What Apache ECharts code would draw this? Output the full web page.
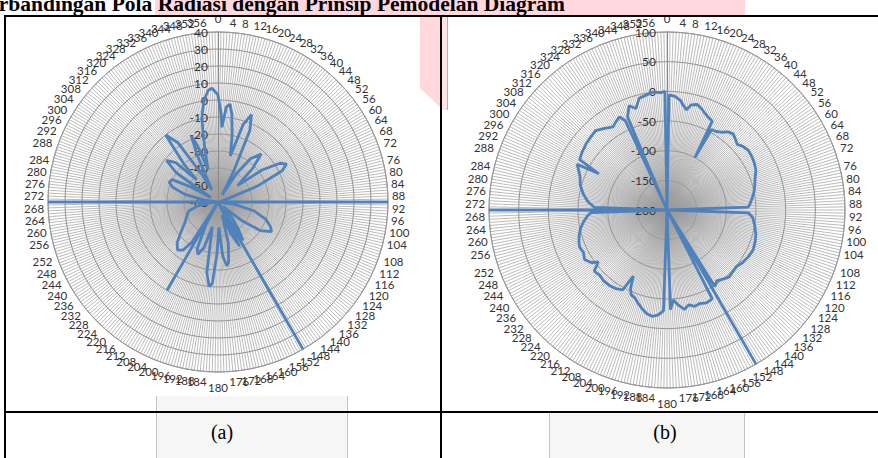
<!DOCTYPE html>
<html><head><meta charset="utf-8">
<script src="https://cdn.jsdelivr.net/npm/echarts@6/dist/echarts.min.js"></script>
<style>
html,body{margin:0;padding:0;width:878px;height:458px;overflow:hidden;background:#fff;}
.abs{position:absolute;}
#chart{position:absolute;left:0;top:0;width:878px;height:458px;}
.cap{position:absolute;font:20px 'Liberation Serif','Times New Roman',serif;color:#000;transform:translate(-50%,-50%);white-space:nowrap;}
</style></head><body>
<div class="abs" style="left:155px;top:0;width:590px;height:15px;background:#ffd7dc"></div>
<div class="abs" style="right:313px;top:-7px;font:bold 21.5px 'Liberation Serif','Times New Roman',serif;line-height:22px;white-space:nowrap;color:#000">Perbandingan Pola Radiasi dengan Prinsip Pemodelan Diagram</div>
<svg class="abs" style="left:0;top:0" width="878" height="458">
  <polygon points="420,15 441,15 441,108 420,88" fill="#ffd7dc"/>
  <rect x="441" y="15" width="7" height="95" fill="#ffe4e7"/>
  <line x1="447.5" y1="15" x2="447.5" y2="110" stroke="#c9a3a8" stroke-width="1"/>
  <rect x="156" y="396" width="192" height="62" fill="#f6f6f6" stroke="none"/>
  <line x1="156.5" y1="396" x2="156.5" y2="458" stroke="#c4c4c4"/>
  <line x1="347.5" y1="396" x2="347.5" y2="458" stroke="#c4c4c4"/>
  <rect x="549" y="412" width="196" height="46" fill="#f6f6f6" stroke="none"/>
  <line x1="549.5" y1="412" x2="549.5" y2="458" stroke="#c4c4c4"/>
  <line x1="744.5" y1="412" x2="744.5" y2="458" stroke="#c4c4c4"/>
</svg>
<div id="chart"></div>
<svg class="abs" style="left:0;top:0;pointer-events:none" width="878" height="458">
  <line x1="4" y1="16" x2="878" y2="16" stroke="#000" stroke-width="2"/>
  <line x1="5" y1="15" x2="5" y2="458" stroke="#000" stroke-width="2"/>
  <line x1="441" y1="15" x2="441" y2="458" stroke="#000" stroke-width="2"/>
  <line x1="4" y1="412" x2="878" y2="412" stroke="#000" stroke-width="2"/>
</svg>
<div class="cap" style="left:222px;top:432px">(a)</div>
<div class="cap" style="left:665px;top:432px">(b)</div>
<script>
// Chart (a): angle (degrees) and gain (dB)
const anglesA = [0,2,3,5,7,9,12,15,18,21,24,27,30,33,37,42,46,50,54,58,61,64,68,72,78,84,89,90,91,98,104,110,115,119,124,128,133,138,143,147,149,150,151,154,158,162,166,170,172,175,178,181,184,186,189,193,197,201,204,206,208,209,210,211,213,216,220,225,231,238,246,253,259,264,269,270,271,278,283,288,292,296,299,302,305,309,313,316,318,322,326,330,333,336,338,340,343,346,349,352,355,357,360];
const valuesA = [3,-8,-16,-4,-2,-8,-20,-32,-12,-5,-14,-40,-55,-40,-28,-22,-32,-45,-28,-17,-14,-18,-35,-55,-58,-57,-60,40,-60,-50,-38,-30,-26,-24,-30,-42,-56,-48,-40,-33,-60,56,-60,-31,-40,-52,-35,-24,-22,-28,-45,-30,-12,-10,-18,-45,-32,-27,-30,-40,-45,-60,0,-60,-32,-25,-23,-26,-32,-37,-40,-42,-48,-56,-60,40,-60,-52,-40,-32,-29,-30,-42,-55,-30,-21,-26,-42,-30,-10,-18,-42,-52,-30,-18,-25,-40,-28,-10,0,6,7,3];
// Chart (b)
const anglesB = [0,1,4,7,9,11,13,16,19,22,25,27,28,29,32,35,38,41,44,47,50,54,58,62,66,70,74,78,82,86,88,90,92,95,100,105,110,115,120,125,129,133,137,141,145,148,149,150,151,153,157,161,164,167,170,173,176,178,180,182,185,188,191,194,197,200,203,205,207,209,213,217,222,226,230,233,235,239,243,247,250,254,258,262,266,268,269,270,271,272,276,281,286,291,295,297,298,300,304,309,314,318,322,327,330,333,335,336,337,340,343,346,350,353,357,359,360];
const valuesB = [-200,-6,-8,-14,-22,-28,-18,-15,-20,-26,-30,-32,-100,-45,-44,-40,-33,-30,-34,-38,-33,-30,-31,-33,-36,-42,-46,-50,-55,-60,-63,-200,-63,-55,-50,-45,-42,-40,-42,-45,-49,-48,-46,-50,-54,-48,-200,142,-200,-32,-30,-33,-31,-36,-30,-38,-48,-32,-200,-30,-22,-19,-22,-28,-35,-42,-45,-55,-75,-46,-42,-40,-40,-42,-40,-55,-45,-38,-42,-40,-42,-46,-51,-58,-66,-72,-200,100,-200,-78,-66,-56,-48,-43,-35,-30,-70,-30,-27,-24,-22,-20,-26,-33,-28,-24,-34,-200,-30,-13,-21,-6,-3,0,-2,0,-200];
// radial tick ranges
const radiusTicksA = [-60,-50,-40,-30,-20,-10,0,10,20,30,40];
const radiusTicksB = [-200,-150,-100,-50,0,50,100];
const angleLabelStep = 4;

const chart = echarts.init(document.getElementById('chart'), null, {renderer:'svg'});
const font = "Lato, 'Open Sans', sans-serif";
const FS = 11.5, DW = 6.1;
const base = {fontSize:FS, fontFamily:font, color:'#333'};
const rich = {
  t: Object.assign({padding:[0,0,4,0]}, base),
  b: Object.assign({padding:[5,0,0,0]}, base)
};
[1,2,3].forEach(function(n){
  rich['r'+n] = Object.assign({padding:[0,0,0,n*DW]}, base);
  rich['l'+n] = Object.assign({padding:[0,n*DW,0,0]}, base);
});
function angleLabel(v){
  if (v % angleLabelStep !== 0 || v >= 360) return '';
  const s = String(v), n = s.length;
  if (v === 0) return '{t|'+s+'}';
  if (v === 180) return '{b|'+s+'}';
  // labels near top/bottom: shift so they read right/left of their spoke
  if (v < 18 || (v > 162 && v < 180)) return '{r'+n+'|'+s+'}';
  if ((v > 180 && v < 198) || v > 342) return '{l'+n+'|'+s+'}';
  return s;
}
function angleAxis(idx){
  return {polarIndex:idx, type:'value', min:0, max:360, interval:1, startAngle:90, clockwise:true,
    axisLine:{show:true, lineStyle:{color:'#9a9a9a', width:1}},
    axisTick:{show:false},
    splitLine:{show:true, lineStyle:{color:'#9d9d9d', width:0.7}},
    axisLabel:{margin:4, fontSize:FS, color:'#333', fontFamily:font, formatter:angleLabel, rich:rich}
  };
}
function radiusAxis(idx, ticks, m){
  return {polarIndex:idx, type:'value', min:ticks[0], max:ticks[ticks.length-1], interval:ticks[1]-ticks[0],
    axisLine:{show:true, lineStyle:{color:'#888', width:1}},
    axisTick:{show:false},
    splitLine:{show:true, lineStyle:{color:'#8f8f8f', width:1}},
    axisLabel:{margin:m, fontSize:12, color:'#333', fontFamily:font}
  };
}
function series(idx, angles, values){
  return {type:'line', coordinateSystem:'polar', polarIndex:idx, symbol:'none', clip:false, animation:false,
    lineStyle:{color:'#4F81BD', width:2.8}, z:5,
    data: angles.map(function(a,i){return [values[i], a];})};
}
chart.setOption({
  animation:false,
  backgroundColor:'transparent',
  polar:[{center:[218,202], radius:170},{center:[667,210], radius:178}],
  angleAxis:[angleAxis(0), angleAxis(1)],
  radiusAxis:[radiusAxis(0, radiusTicksA, 10), radiusAxis(1, radiusTicksB, 11)],
  series:[series(0, anglesA, valuesA), series(1, anglesB, valuesB)]
});
</script>
</body></html>
